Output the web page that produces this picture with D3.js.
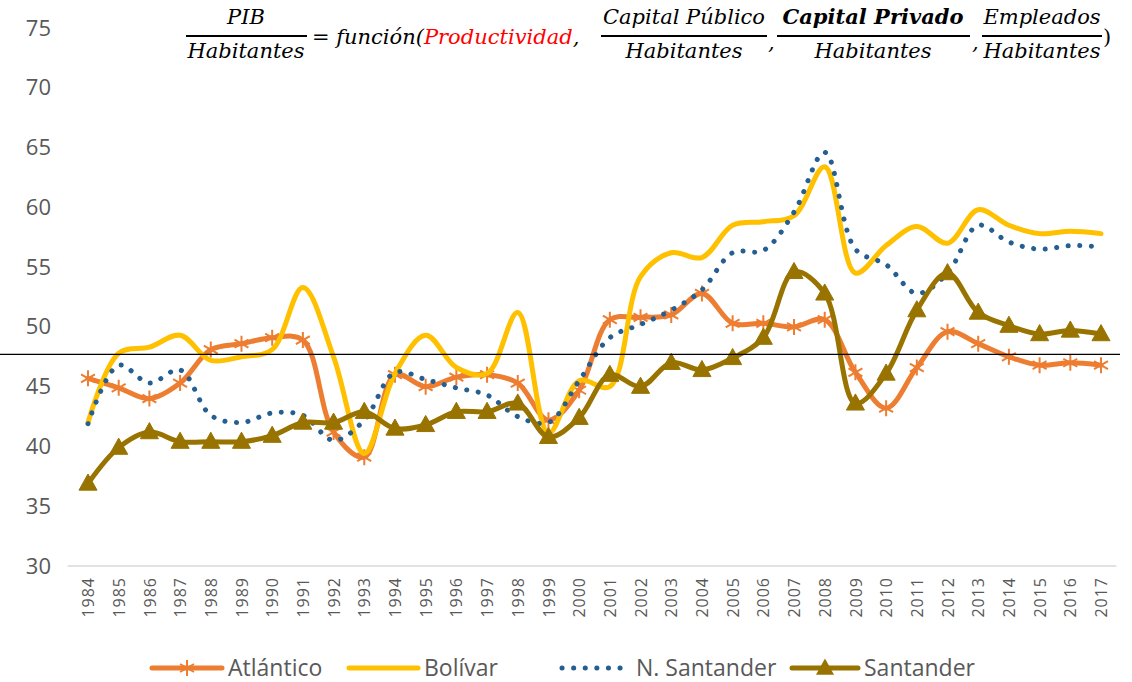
<!DOCTYPE html>
<html>
<head>
<meta charset="utf-8">
<script src="https://cdn.jsdelivr.net/npm/d3@7"></script>
<style>
  body { margin: 0; background: #fff; }
  svg { display: block; }
</style>
</head>
<body>
<svg id="chart"></svg>
<script>
// data
const years = d3.range(1984, 2018).map(String);

const atlantico = [45.7, 44.9, 44.0, 45.3, 48.1, 48.6, 49.1, 48.9, 41.2, 39.1,
  46.0, 45.0, 45.8, 46.0, 45.3, 42.2, 44.7, 50.6, 50.8, 51.0,
  52.8, 50.3, 50.3, 50.0, 50.6, 46.2, 43.2, 46.6, 49.6, 48.6,
  47.5, 46.8, 47.0, 46.8];

const bolivar = [42.0, 47.8, 48.3, 49.3, 47.2, 47.5, 48.1, 53.3, 47.5, 39.4,
  46.1, 49.3, 46.6, 46.1, 51.2, 41.1, 45.5, 45.0, 54.2, 56.2,
  55.8, 58.5, 58.8, 59.3, 63.4, 54.5, 56.8, 58.4, 57.0, 59.8,
  58.5, 57.8, 58.0, 57.8];

const nSantander = [41.9, 46.8, 45.3, 46.4, 42.6, 42.0, 42.8, 42.6, 40.5, 42.2,
  46.2, 45.6, 44.9, 44.3, 42.5, 42.0, 45.5, 49.1, 50.2, 51.4,
  53.1, 56.2, 56.4, 59.6, 64.6, 56.5, 55.2, 52.8, 54.5, 58.5,
  57.1, 56.5, 56.8, 56.7];

const santander = [36.9, 39.9, 41.2, 40.4, 40.4, 40.4, 40.9, 42.0, 42.0, 42.9,
  41.5, 41.8, 42.9, 42.9, 43.6, 40.8, 42.4, 46.0, 45.0, 47.0,
  46.4, 47.4, 49.1, 54.6, 52.8, 43.6, 46.1, 51.4, 54.5, 51.2,
  50.1, 49.4, 49.7, 49.4];

const yTicks = [30, 35, 40, 45, 50, 55, 60, 65, 70, 75];
const refValue = 47.7;

const seriesNames = ['Atlántico', 'Bolívar', 'N. Santander', 'Santander'];

// chart setup
const width = 1132;
const height = 682;

const svg = d3.select('#chart')
  .attr('width', width)
  .attr('height', height);

const x = d3.scalePoint()
  .domain(years)
  .range([88, 1101]);

const y = d3.scaleLinear()
  .domain([30, 75])
  .range([566, 28]);

const series = [
  { name: seriesNames[0], values: atlantico, color: '#ED7D31', marker: 'star' },
  { name: seriesNames[1], values: bolivar, color: '#FFC000', marker: null },
  { name: seriesNames[2], values: nSantander, color: '#255E91', marker: null, dotted: true },
  { name: seriesNames[3], values: santander, color: '#997300', marker: 'triangle' }
];

// y axis, labels only
const yAxis = svg.append('g')
  .attr('transform', 'translate(51,0)')
  .call(d3.axisLeft(y).tickValues(yTicks).tickSize(0).tickPadding(0));
yAxis.select('.domain').remove();
yAxis.selectAll('text')
  .attr('fill', '#595959')
  .style('font-family', 'Open Sans, sans-serif')
  .style('font-size', '22px');

// x axis
const step = x.step();
svg.append('line')
  .attr('x1', x(years[0]) - step / 2 - 5)
  .attr('x2', x(years[years.length - 1]) + step / 2)
  .attr('y1', y(30))
  .attr('y2', y(30))
  .attr('stroke', '#D9D9D9')
  .attr('stroke-width', 1.5);

const xAxis = svg.append('g')
  .attr('transform', `translate(0, ${y(30)})`)
  .call(d3.axisBottom(x).tickSize(0));
xAxis.select('.domain').remove();
xAxis.selectAll('text')
  .attr('transform', 'rotate(-90)')
  .attr('x', -11)
  .attr('y', 0)
  .attr('dy', '0.35em')
  .style('text-anchor', 'end')
  .style('letter-spacing', '1px')
  .attr('fill', '#595959')
  .style('font-family', 'Open Sans, sans-serif')
  .style('font-size', '16px');

// lines
const line = d3.line()
  .x((d, i) => x(years[i]))
  .y(d => y(d))
  .curve(d3.curveCatmullRom.alpha(0.5));

const starPath = r => {
  const a = r * 0.87, b = r * 0.5;
  return `M0,${-r}L0,${r}M${-a},${-b}L${a},${b}M${-a},${b}L${a},${-b}`;
};

const triPath = r => `M0,${-r}L${r * 0.95},${r * 0.7}L${-r * 0.95},${r * 0.7}Z`;

series.forEach(s => {
  const path = svg.append('path')
    .datum(s.values)
    .attr('fill', 'none')
    .attr('stroke', s.color)
    .attr('d', line);

  if (s.dotted) {
    path.attr('stroke-width', 5)
      .attr('stroke-linecap', 'round')
      .attr('stroke-dasharray', '0.1 11.5');
  } else {
    path.attr('stroke-width', 5)
      .attr('stroke-linejoin', 'round')
      .attr('stroke-linecap', 'round');
  }

  if (s.marker === 'star') {
    svg.append('g').selectAll('path')
      .data(s.values)
      .join('path')
      .attr('transform', (d, i) => `translate(${x(years[i])},${y(d)})`)
      .attr('d', starPath(8))
      .attr('stroke', s.color)
      .attr('stroke-width', 2);
  }
  if (s.marker === 'triangle') {
    svg.append('g').selectAll('path')
      .data(s.values)
      .join('path')
      .attr('transform', (d, i) => `translate(${x(years[i])},${y(d)})`)
      .attr('d', triPath(9.5))
      .attr('fill', s.color)
      .attr('stroke', s.color)
      .attr('stroke-width', 1);
  }
});

// horizontal reference line
svg.append('line')
  .attr('x1', 0)
  .attr('x2', 1120)
  .attr('y1', y(refValue))
  .attr('y2', y(refValue))
  .attr('stroke', '#000')
  .attr('stroke-width', 1.3);

// equation at the top
const eq = svg.append('g')
  .style('font-family', 'DejaVu Serif, serif')
  .style('font-style', 'italic')
  .style('font-size', '21px')
  .attr('fill', '#000');

const fraction = (cx, x0, x1, num, bold) => {
  eq.append('text')
    .attr('x', cx).attr('y', 24)
    .attr('text-anchor', 'middle')
    .style('font-weight', bold ? 'bold' : 'normal')
    .text(num);
  eq.append('line')
    .attr('x1', x0).attr('x2', x1)
    .attr('y1', 36).attr('y2', 36)
    .attr('stroke', '#000')
    .attr('stroke-width', 2.2);
  eq.append('text')
    .attr('x', cx).attr('y', 58)
    .attr('text-anchor', 'middle')
    .text('Habitantes');
};

fraction(246, 186, 307, 'PIB', false);
eq.append('text')
  .attr('x', 312).attr('y', 44)
  .html('<tspan font-style="normal">=</tspan> función(<tspan fill="#FF0000">Productividad</tspan>,');
fraction(684, 601, 767, 'Capital Público', false);
eq.append('text').attr('x', 768).attr('y', 49).text(',');
fraction(873, 777, 970, 'Capital Privado', true);
eq.append('text').attr('x', 972).attr('y', 49).text(',');
fraction(1042, 982, 1102, 'Empleados', false);
eq.append('text').attr('x', 1103).attr('y', 44).style('font-style', 'normal').text(')');

// legend
const legendY = 668;
const legendItems = [
  { s: series[0], x0: 152, x1: 222 },
  { s: series[1], x0: 349, x1: 418 },
  { s: series[2], x0: 562, x1: 630 },
  { s: series[3], x0: 792, x1: 858 }
];

const legend = svg.append('g');
legendItems.forEach(item => {
  const s = item.s;
  const ln = legend.append('line')
    .attr('x1', item.x0).attr('x2', item.x1)
    .attr('y1', legendY).attr('y2', legendY)
    .attr('stroke', s.color)
    .attr('stroke-width', 5)
    .attr('stroke-linecap', 'round');
  if (s.dotted) ln.attr('stroke-dasharray', '0.1 11.5');
  const cx = (item.x0 + item.x1) / 2;
  if (s.marker === 'star') {
    legend.append('path')
      .attr('transform', `translate(${cx},${legendY})`)
      .attr('d', starPath(8))
      .attr('stroke', s.color)
      .attr('stroke-width', 2);
  }
  if (s.marker === 'triangle') {
    legend.append('path')
      .attr('transform', `translate(${cx},${legendY})`)
      .attr('d', triPath(9.5))
      .attr('fill', s.color);
  }
  legend.append('text')
    .attr('x', item.x1 + 6)
    .attr('y', legendY)
    .attr('dy', '0.35em')
    .attr('fill', '#595959')
    .style('font-family', 'Open Sans, sans-serif')
    .style('font-size', '23px')
    .text(s.name);
});
</script>
</body>
</html>
